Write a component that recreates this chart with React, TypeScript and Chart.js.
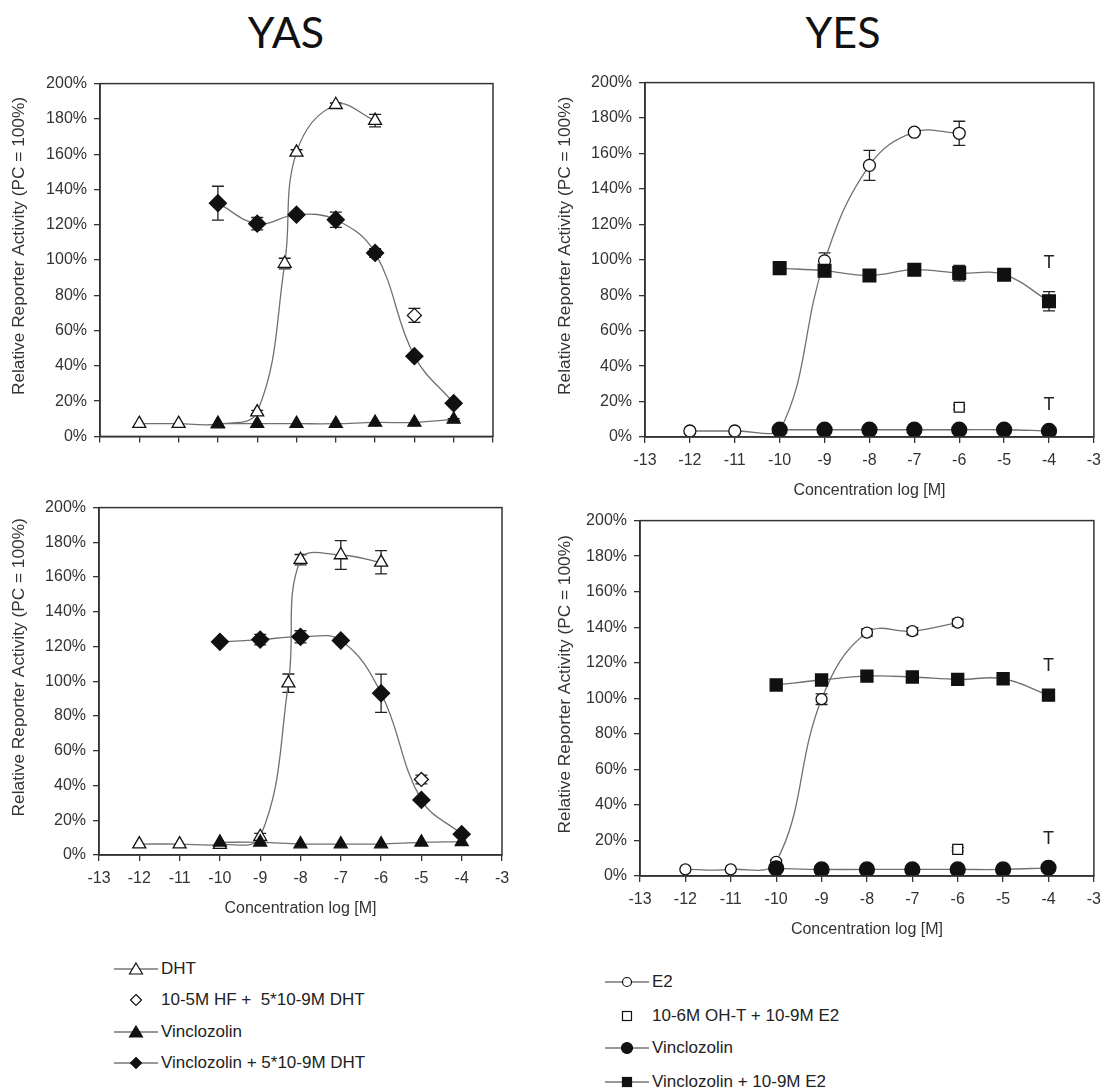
import React, { useEffect, useRef } from "react";
import { Chart, registerables } from "chart.js";

Chart.register(...registerables);

const FONT = "'Liberation Sans', Arial, Helvetica, sans-serif";

// ---------- axis / text data ----------
const xTickValues = [-13, -12, -11, -10, -9, -8, -7, -6, -5, -4, -3];
const yTickValues = [0, 20, 40, 60, 80, 100, 120, 140, 160, 180, 200];
const xAxisTitle = "Concentration log [M]";
const yAxisTitle = "Relative Reporter Activity (PC = 100%)";
const panelTitles = ["YAS", "YES"];
const yasLegendLabels = ["DHT", "10-5M HF +  5*10-9M DHT", "Vinclozolin", "Vinclozolin + 5*10-9M DHT"];
const yesLegendLabels = ["E2", "10-6M OH-T + 10-9M E2", "Vinclozolin", "Vinclozolin + 10-9M E2"];

// ---------- YAS upper panel ----------
const yasUpDhtX = [-12, -11, -10, -9, -8.3, -8, -7, -6];
const yasUpDhtY = [7.2, 7.2, 7, 13.8, 98, 161, 188, 179];
const yasUpDhtErr = [0, 0, 0, 1, 3, 1.5, 1, 3.5];
const yasUpHfX = [-5];
const yasUpHfY = [68.6];
const yasUpHfErr = [4];
const yasUpVinX = [-10, -9, -8, -7, -6, -5, -4];
const yasUpVinY = [7.2, 7.2, 7.2, 7.2, 7.9, 7.9, 9.6];
const yasUpVinErr = [0, 0, 0, 0, 0, 0, 0.5];
const yasUpVinDhtX = [-10, -9, -8, -7, -6, -5, -4];
const yasUpVinDhtY = [132.2, 120.6, 125.7, 122.8, 104, 45.5, 18.8];
const yasUpVinDhtErr = [9.6, 3.5, 1.5, 4.3, 2.5, 1, 1];

// ---------- YES upper panel ----------
const yesUpE2X = [-12, -11, -10, -9, -8, -7, -6];
const yesUpE2Y = [3.4, 3.4, 3.5, 99.4, 153.3, 172, 171.4];
const yesUpE2Err = [0, 0, 0, 4.5, 8.5, 1, 6.8];
const yesUpOhtX = [-6];
const yesUpOhtY = [16.8];
const yesUpOhtErr = [1.2];
const yesUpVinX = [-10, -9, -8, -7, -6, -5, -4];
const yesUpVinY = [4.1, 4.1, 4.1, 4.1, 4.1, 4.1, 3.4];
const yesUpVinErr = [0, 0, 0, 0, 0, 0, 0];
const yesUpVinE2X = [-10, -9, -8, -7, -6, -5, -4];
const yesUpVinE2Y = [95.3, 93.8, 91.2, 94.4, 92.5, 91.6, 76.6];
const yesUpVinE2Err = [2, 2, 2, 1.5, 4.4, 2, 5.4];
const yesUpToxX = [-4, -4];
const yesUpToxY = [98, 18];

// ---------- YAS lower panel ----------
const yasLoDhtX = [-12, -11, -10, -9, -8.3, -8, -7, -6];
const yasLoDhtY = [6.3, 6.3, 6, 10.5, 98.9, 170, 172.7, 168.5];
const yasLoDhtErr = [0, 0, 0, 2, 5.3, 3, 8.3, 6.7];
const yasLoHfX = [-5];
const yasLoHfY = [43.5];
const yasLoHfErr = [2.5];
const yasLoVinX = [-10, -9, -8, -7, -6, -5, -4];
const yasLoVinY = [7.3, 7.3, 6.3, 6.3, 6.3, 7.3, 7.6];
const yasLoVinErr = [0, 0, 0, 0, 0, 0, 0];
const yasLoVinDhtX = [-10, -9, -8, -7, -6, -5, -4];
const yasLoVinDhtY = [122.7, 124, 125.6, 123.5, 93.1, 31.7, 12];
const yasLoVinDhtErr = [1, 3, 3.5, 1, 11, 1, 1];

// ---------- YES lower panel ----------
const yesLoE2X = [-12, -11, -10, -9, -8, -7, -6];
const yesLoE2Y = [3.7, 3.7, 8, 99.5, 137, 137.8, 142.6];
const yesLoE2Err = [0, 0, 1, 3, 2, 2, 2];
const yesLoOhtX = [-6];
const yesLoOhtY = [15];
const yesLoOhtErr = [1];
const yesLoVinX = [-10, -9, -8, -7, -6, -5, -4];
const yesLoVinY = [4.3, 3.7, 3.7, 3.7, 3.7, 3.7, 4.6];
const yesLoVinErr = [0, 0, 0, 0, 0, 0, 0];
const yesLoVinE2X = [-10, -9, -8, -7, -6, -5, -4];
const yesLoVinE2Y = [107.5, 110.3, 112.5, 112, 110.6, 111, 101.8];
const yesLoVinE2Err = [1, 1.5, 1.5, 1.5, 1.5, 1, 2];
const yesLoToxX = [-4, -4];
const yesLoToxY = [118, 21];

// ---------- styling helpers ----------
type Marker = { style: string; radius: number; fill: string };
const M_OPEN_TRI: Marker = { style: "triangle", radius: 7.5, fill: "#ffffff" };
const M_FILL_TRI: Marker = { style: "triangle", radius: 7.5, fill: "#111111" };
const M_OPEN_DIA: Marker = { style: "rectRot", radius: 7, fill: "#ffffff" };
const M_FILL_DIA: Marker = { style: "rectRot", radius: 8.5, fill: "#111111" };
const M_OPEN_CIR: Marker = { style: "circle", radius: 6, fill: "#ffffff" };
const M_FILL_CIR: Marker = { style: "circle", radius: 7.5, fill: "#111111" };
const M_OPEN_SQ: Marker = { style: "rect", radius: 7, fill: "#ffffff" };
const M_FILL_SQ: Marker = { style: "rect", radius: 9, fill: "#111111" };

function series(label: string, xs: number[], ys: number[], errs: number[], m: Marker, line: boolean) {
  return {
    label,
    data: xs.map((x, i) => ({ x, y: ys[i] })),
    errors: errs,
    showLine: line,
    borderColor: "#707070",
    borderWidth: 1.3,
    tension: 0.4,
    pointStyle: m.style,
    pointRadius: m.radius,
    pointHoverRadius: m.radius,
    pointBackgroundColor: m.fill,
    pointBorderColor: "#111111",
    pointBorderWidth: 1.3,
    clip: { left: 30, top: 30, right: 30, bottom: 0 },
  };
}

const errorBarPlugin = {
  id: "errorBars",
  beforeDatasetsDraw(chart: any) {
    const ctx = chart.ctx;
    const xs = chart.scales.x;
    const ys = chart.scales.y;
    ctx.save();
    ctx.strokeStyle = "#222";
    ctx.lineWidth = 1.3;
    chart.data.datasets.forEach((ds: any) => {
      const errs: number[] = ds.errors || [];
      ds.data.forEach((p: any, i: number) => {
        const e = errs[i];
        if (!e) return;
        const px = xs.getPixelForValue(p.x);
        const y1 = ys.getPixelForValue(p.y + e);
        const y2 = ys.getPixelForValue(p.y - e);
        ctx.beginPath();
        ctx.moveTo(px, y1);
        ctx.lineTo(px, y2);
        ctx.moveTo(px - 6, y1);
        ctx.lineTo(px + 6, y1);
        ctx.moveTo(px - 6, y2);
        ctx.lineTo(px + 6, y2);
        ctx.stroke();
      });
    });
    ctx.restore();
  },
};

const framePlugin = {
  id: "frame",
  afterDraw(chart: any) {
    const { left, top, right, bottom } = chart.chartArea;
    const ctx = chart.ctx;
    ctx.save();
    ctx.strokeStyle = "#333";
    ctx.lineWidth = 1.5;
    ctx.strokeRect(left, top, right - left, bottom - top);
    ctx.restore();
  },
};

// y-axis title drawn along the axis, slightly stretched in the reading direction like the reference
const yTitlePlugin = {
  id: "yTitle",
  afterDraw(chart: any) {
    const ys = chart.scales.y;
    const ctx = chart.ctx;
    const cx = ys.left + 19.5;
    const cy = (chart.chartArea.top + chart.chartArea.bottom) / 2 - 14;
    ctx.save();
    ctx.translate(cx, cy);
    ctx.rotate(-Math.PI / 2);
    ctx.scale(1.08, 1);
    ctx.fillStyle = "#333";
    ctx.font = `16px ${FONT}`;
    ctx.textAlign = "center";
    ctx.textBaseline = "middle";
    ctx.fillText(yAxisTitle, 0, 0);
    ctx.restore();
  },
};

function toxPlugin(xs: number[], ys: number[]) {
  return {
    id: "toxMarks",
    afterDatasetsDraw(chart: any) {
      const ctx = chart.ctx;
      ctx.save();
      ctx.fillStyle = "#222";
      ctx.font = `18px ${FONT}`;
      ctx.textAlign = "center";
      ctx.textBaseline = "middle";
      xs.forEach((x, i) => {
        ctx.fillText("T", chart.scales.x.getPixelForValue(x), chart.scales.y.getPixelForValue(ys[i]));
      });
      ctx.restore();
    },
  };
}

type PanelProps = {
  left: number;
  top: number;
  plotW: number;
  plotH: number;
  yW: number;
  xH: number;
  padT: number;
  padR: number;
  showXLabels: boolean;
  showXTitle: boolean;
  datasets: any[];
  tox?: { xs: number[]; ys: number[] };
};

function Panel(p: PanelProps) {
  const ref = useRef<HTMLCanvasElement | null>(null);
  const w = p.yW + p.plotW + p.padR;
  const h = p.padT + p.plotH + p.xH;
  useEffect(() => {
    const canvas = ref.current;
    if (!canvas) return;
    const plugins: any[] = [errorBarPlugin, framePlugin, yTitlePlugin];
    if (p.tox) plugins.push(toxPlugin(p.tox.xs, p.tox.ys));
    const chart = new Chart(canvas, {
      type: "line",
      data: { datasets: p.datasets },
      plugins,
      options: {
        animation: false,
        responsive: false,
        devicePixelRatio: 1,
        events: [],
        layout: { padding: { top: p.padT, right: p.padR, left: 0, bottom: 0 } },
        plugins: { legend: { display: false }, tooltip: { enabled: false } },
        scales: {
          x: {
            type: "linear",
            min: -13,
            max: -3,
            afterBuildTicks: (axis: any) => {
              axis.ticks = xTickValues.map((v) => ({ value: v }));
            },
            afterFit: (axis: any) => {
              axis.height = p.xH;
            },
            ticks: {
              display: p.showXLabels,
              autoSkip: false,
              maxRotation: 0,
              padding: 8,
              color: "#333",
              font: { family: FONT, size: 16 },
              callback: (v: any) => String(v),
            },
            grid: { drawOnChartArea: false, drawTicks: true, tickLength: 6, color: "#333", lineWidth: 1.3 },
            border: { display: true, color: "#333", width: 1.5 },
            title: {
              display: p.showXTitle,
              text: xAxisTitle,
              color: "#333",
              font: { family: FONT, size: 16 },
              padding: { top: 0, bottom: 7 },
            },
          },
          y: {
            type: "linear",
            min: 0,
            max: 200,
            afterBuildTicks: (axis: any) => {
              axis.ticks = yTickValues.map((v) => ({ value: v }));
            },
            afterFit: (axis: any) => {
              axis.width = p.yW;
            },
            ticks: {
              padding: 7,
              color: "#333",
              font: { family: FONT, size: 16 },
              callback: (v: any) => `${v}%`,
            },
            grid: { drawOnChartArea: false, drawTicks: true, tickLength: 6, color: "#333", lineWidth: 1.3 },
            border: { display: true, color: "#333", width: 1.5 },
            title: { display: false },
          },
        },
      } as any,
    });
    return () => chart.destroy();
  }, []);
  return (
    <canvas
      ref={ref}
      width={w}
      height={h}
      style={{ position: "absolute", left: p.left, top: p.top, width: w, height: h }}
    />
  );
}

// ---------- legend ----------
function Symbol({ kind, line }: { kind: string; line: boolean }) {
  const cx = 22;
  const cy = 10;
  let shape: any = null;
  const stroke = "#111";
  if (kind === "triOpen" || kind === "triFill") {
    shape = (
      <polygon
        points={`${cx},${cy - 6} ${cx + 6.5},${cy + 5} ${cx - 6.5},${cy + 5}`}
        fill={kind === "triOpen" ? "#fff" : "#111"}
        stroke={stroke}
        strokeWidth={1.2}
      />
    );
  } else if (kind === "diaOpen" || kind === "diaFill") {
    const r = 5.5;
    shape = (
      <polygon
        points={`${cx},${cy - r} ${cx + r},${cy} ${cx},${cy + r} ${cx - r},${cy}`}
        fill={kind === "diaOpen" ? "#fff" : "#111"}
        stroke={stroke}
        strokeWidth={1.2}
      />
    );
  } else if (kind === "cirOpen" || kind === "cirFill") {
    shape = (
      <circle cx={cx} cy={cy} r={kind === "cirOpen" ? 4.5 : 5.5} fill={kind === "cirOpen" ? "#fff" : "#111"} stroke={stroke} strokeWidth={1.2} />
    );
  } else {
    shape = (
      <rect x={cx - 4.5} y={cy - 4.5} width={9} height={9} fill={kind === "sqOpen" ? "#fff" : "#111"} stroke={stroke} strokeWidth={1.2} />
    );
  }
  return (
    <svg width={44} height={20} style={{ position: "absolute", left: 0, top: -10 }}>
      {line && <line x1={0} y1={cy} x2={44} y2={cy} stroke="#333" strokeWidth={1.2} />}
      {shape}
    </svg>
  );
}

function Legend({ left, rows, labels, kinds, lines }: { left: number; rows: number[]; labels: string[]; kinds: string[]; lines: boolean[] }) {
  return (
    <>
      {labels.map((lab, i) => (
        <div key={i} style={{ position: "absolute", left, top: rows[i], height: 0 }}>
          <Symbol kind={kinds[i]} line={lines[i]} />
          <div
            style={{
              position: "absolute",
              left: 47,
              top: -11,
              lineHeight: "22px",
              fontFamily: FONT,
              fontSize: 17,
              color: "#222",
              whiteSpace: "pre",
            }}
          >
            {lab}
          </div>
        </div>
      ))}
    </>
  );
}

export default function App() {
  const yasUp = [
    series(yasLegendLabels[3], yasUpVinDhtX, yasUpVinDhtY, yasUpVinDhtErr, M_FILL_DIA, true),
    series(yasLegendLabels[2], yasUpVinX, yasUpVinY, yasUpVinErr, M_FILL_TRI, true),
    series(yasLegendLabels[1], yasUpHfX, yasUpHfY, yasUpHfErr, M_OPEN_DIA, false),
    series(yasLegendLabels[0], yasUpDhtX, yasUpDhtY, yasUpDhtErr, M_OPEN_TRI, true),
  ];
  const yesUp = [
    series(yesLegendLabels[3], yesUpVinE2X, yesUpVinE2Y, yesUpVinE2Err, M_FILL_SQ, true),
    series(yesLegendLabels[2], yesUpVinX, yesUpVinY, yesUpVinErr, M_FILL_CIR, true),
    series(yesLegendLabels[1], yesUpOhtX, yesUpOhtY, yesUpOhtErr, M_OPEN_SQ, false),
    series(yesLegendLabels[0], yesUpE2X, yesUpE2Y, yesUpE2Err, M_OPEN_CIR, true),
  ];
  const yasLo = [
    series(yasLegendLabels[3], yasLoVinDhtX, yasLoVinDhtY, yasLoVinDhtErr, M_FILL_DIA, true),
    series(yasLegendLabels[2], yasLoVinX, yasLoVinY, yasLoVinErr, M_FILL_TRI, true),
    series(yasLegendLabels[1], yasLoHfX, yasLoHfY, yasLoHfErr, M_OPEN_DIA, false),
    series(yasLegendLabels[0], yasLoDhtX, yasLoDhtY, yasLoDhtErr, M_OPEN_TRI, true),
  ];
  const yesLo = [
    series(yesLegendLabels[3], yesLoVinE2X, yesLoVinE2Y, yesLoVinE2Err, { ...M_FILL_SQ, radius: 8.5 }, true),
    series(yesLegendLabels[2], yesLoVinX, yesLoVinY, yesLoVinErr, M_FILL_CIR, true),
    series(yesLegendLabels[1], yesLoOhtX, yesLoOhtY, yesLoOhtErr, M_OPEN_SQ, false),
    series(yesLegendLabels[0], yesLoE2X, yesLoE2Y, yesLoE2Err, { ...M_OPEN_CIR, radius: 5.5 }, true),
  ];

  const titleStyle = (cx: number): React.CSSProperties => ({
    position: "absolute",
    left: cx - 100,
    width: 200,
    top: 6,
    lineHeight: "52px",
    textAlign: "center",
    fontFamily: "Lato, 'Open Sans', sans-serif",
    fontSize: 43,
    color: "#111",
  });

  return (
    <div
      style={{
        position: "absolute",
        left: 0,
        top: 0,
        width: 1109,
        height: 1090,
        background: "#fff",
        overflow: "hidden",
      }}
    >
      <div style={titleStyle(286)}>{panelTitles[0]}</div>
      <div style={titleStyle(843)}>{panelTitles[1]}</div>

      <Panel left={0} top={67} plotW={393} plotH={360} yW={100} xH={12} padT={14} padR={16} showXLabels={false} showXTitle={false} datasets={yasUp} />
      <Panel left={546} top={66} plotW={453} plotH={357} yW={99} xH={70} padT={14} padR={11} showXLabels={true} showXTitle={true} datasets={yesUp} tox={{ xs: yesUpToxX, ys: yesUpToxY }} />
      <Panel left={0} top={491} plotW={403} plotH={350} yW={99} xH={70} padT={14} padR={16} showXLabels={true} showXTitle={true} datasets={yasLo} />
      <Panel left={546} top={504} plotW={455} plotH={358} yW={94} xH={70} padT={14} padR={14} showXLabels={true} showXTitle={true} datasets={yesLo} tox={{ xs: yesLoToxX, ys: yesLoToxY }} />

      <Legend
        left={114}
        rows={[969, 1000, 1032, 1063]}
        labels={yasLegendLabels}
        kinds={["triOpen", "diaOpen", "triFill", "diaFill"]}
        lines={[true, false, true, true]}
      />
      <Legend
        left={605}
        rows={[982, 1016, 1048, 1082]}
        labels={yesLegendLabels}
        kinds={["cirOpen", "sqOpen", "cirFill", "sqFill"]}
        lines={[true, false, true, true]}
      />
    </div>
  );
}
